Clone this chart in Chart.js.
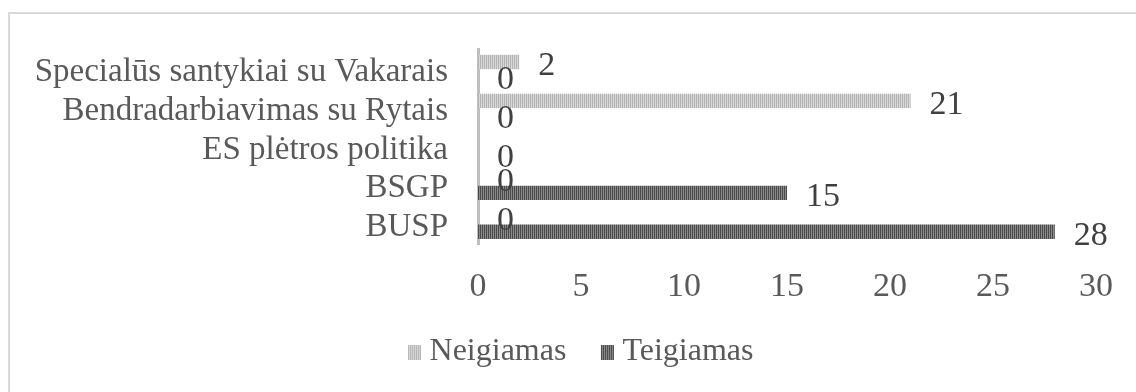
<!DOCTYPE html>
<html>
<head>
<meta charset="utf-8">
<script src="https://cdn.jsdelivr.net/npm/chart.js@4.4.1/dist/chart.umd.min.js"></script>
<style>
  html, body { margin: 0; padding: 0; background: #ffffff; overflow: hidden; }
  #wrap { position: relative; width: 1136px; height: 392px; }
</style>
</head>
<body>
<div id="wrap"><canvas id="chart" width="1136" height="392"></canvas></div>
<script>
// Categories, top to bottom
const categories = [
  'Specialūs santykiai su Vakarais',
  'Bendradarbiavimas su Rytais',
  'ES plėtros politika',
  'BSGP',
  'BUSP'
];
const seriesNames = ['Neigiamas', 'Teigiamas'];
const negativeValues = [2, 21, 0, 0, 0];
const positiveValues = [0, 0, 0, 15, 28];
const xTickValues = [0, 5, 10, 15, 20, 25, 30];
// value labels that stay undrawn (series index, category index)
const hiddenLabels = [[0, 2]];

const FONT = "'Liberation Serif', 'Times New Roman', serif";
const canvas = document.getElementById('chart');
const ctx = canvas.getContext('2d');

// vertical hatch fill for the bars
function stripePattern(dark, light) {
  const c = document.createElement('canvas');
  c.width = 2; c.height = 4;
  const g = c.getContext('2d');
  g.fillStyle = light; g.fillRect(0, 0, 2, 4);
  g.fillStyle = dark; g.fillRect(0, 0, 1, 4);
  return ctx.createPattern(c, 'repeat');
}
// legend swatch: hatched box drawn left of the image centre, close to the text
function legendSwatch(dark, light) {
  const c = document.createElement('canvas');
  c.width = 26; c.height = 15;
  const g = c.getContext('2d');
  for (let x = 8; x < 21; x++) {
    g.fillStyle = (x % 2 === 0) ? dark : light;
    g.fillRect(x, 0, 1, 15);
  }
  return c;
}

const palette = [
  { dark: '#b4b4b4', light: '#d8d8d8' },
  { dark: '#4a4a4a', light: '#8a8a8a' }
];
const fills = palette.map(p => stripePattern(p.dark, p.light));
const swatches = palette.map(p => legendSwatch(p.dark, p.light));

const framePlugin = {
  id: 'frame',
  beforeDraw(chart) {
    const c = chart.ctx;
    c.save();
    c.strokeStyle = '#d9d9d9';
    c.lineWidth = 2;
    c.beginPath();
    c.moveTo(9, 392);
    c.lineTo(9, 13);
    c.lineTo(1136, 13);
    c.stroke();
    c.restore();
  }
};

const valueLabelPlugin = {
  id: 'valueLabels',
  afterDatasetsDraw(chart) {
    const c = chart.ctx;
    c.save();
    c.font = '34px ' + FONT;
    c.fillStyle = '#404040';
    c.textAlign = 'left';
    c.textBaseline = 'middle';
    chart.data.datasets.forEach((ds, i) => {
      chart.getDatasetMeta(i).data.forEach((bar, j) => {
        if (hiddenLabels.some(h => h[0] === i && h[1] === j)) return;
        c.fillText(String(ds.data[j]), bar.x + 19, bar.y + 4);
      });
    });
    c.restore();
  }
};

function draw() {
  new Chart(ctx, {
    type: 'bar',
    data: {
      labels: categories,
      datasets: [
        { label: seriesNames[0], data: negativeValues, backgroundColor: fills[0] },
        { label: seriesNames[1], data: positiveValues, backgroundColor: fills[1] }
      ]
    },
    options: {
      indexAxis: 'y',
      responsive: false,
      animation: false,
      events: [],
      datasets: { bar: { categoryPercentage: 0.74, barPercentage: 1.0 } },
      layout: { padding: { top: 48, right: 0, left: 30, bottom: 14 } },
      scales: {
        y: {
          grid: { display: false, drawTicks: false },
          border: { display: true, color: '#bfbfbf', width: 3 },
          ticks: { autoSkip: false, color: '#595959', font: { family: FONT, size: 33 }, padding: 30, labelOffset: 3 },
          afterFit(scale) { scale.width = 448; }
        },
        // empty right-hand margin beside the plot
        yRight: {
          type: 'category',
          position: 'right',
          grid: { display: false, drawTicks: false },
          border: { display: false },
          ticks: { display: false },
          afterFit(scale) { scale.width = 40; }
        },
        x: {
          min: 0, max: 30,
          afterBuildTicks(scale) { scale.ticks = xTickValues.map(v => ({ value: v })); },
          grid: { display: false, drawTicks: false },
          border: { display: false },
          ticks: { color: '#595959', font: { family: FONT, size: 34 }, padding: 23, maxRotation: 0 },
          afterFit(scale) { scale.height = 53; }
        }
      },
      plugins: {
        tooltip: { enabled: false },
        legend: {
          position: 'bottom',
          labels: {
            usePointStyle: true,
            boxWidth: 1,
            boxHeight: 15,
            padding: 39,
            color: '#595959',
            font: { family: FONT, size: 32 },
            generateLabels(chart) {
              return chart.data.datasets.map((ds, i) => ({
                text: ds.label,
                pointStyle: swatches[i],
                fillStyle: palette[i].dark,
                strokeStyle: 'transparent',
                lineWidth: 0,
                fontColor: '#595959',
                hidden: false,
                datasetIndex: i
              }));
            }
          }
        }
      }
    },
    plugins: [framePlugin, valueLabelPlugin]
  });
}

if (document.fonts && document.fonts.load) {
  document.fonts.load("30px 'Liberation Serif'").then(draw, draw);
} else {
  draw();
}
</script>
</body>
</html>
